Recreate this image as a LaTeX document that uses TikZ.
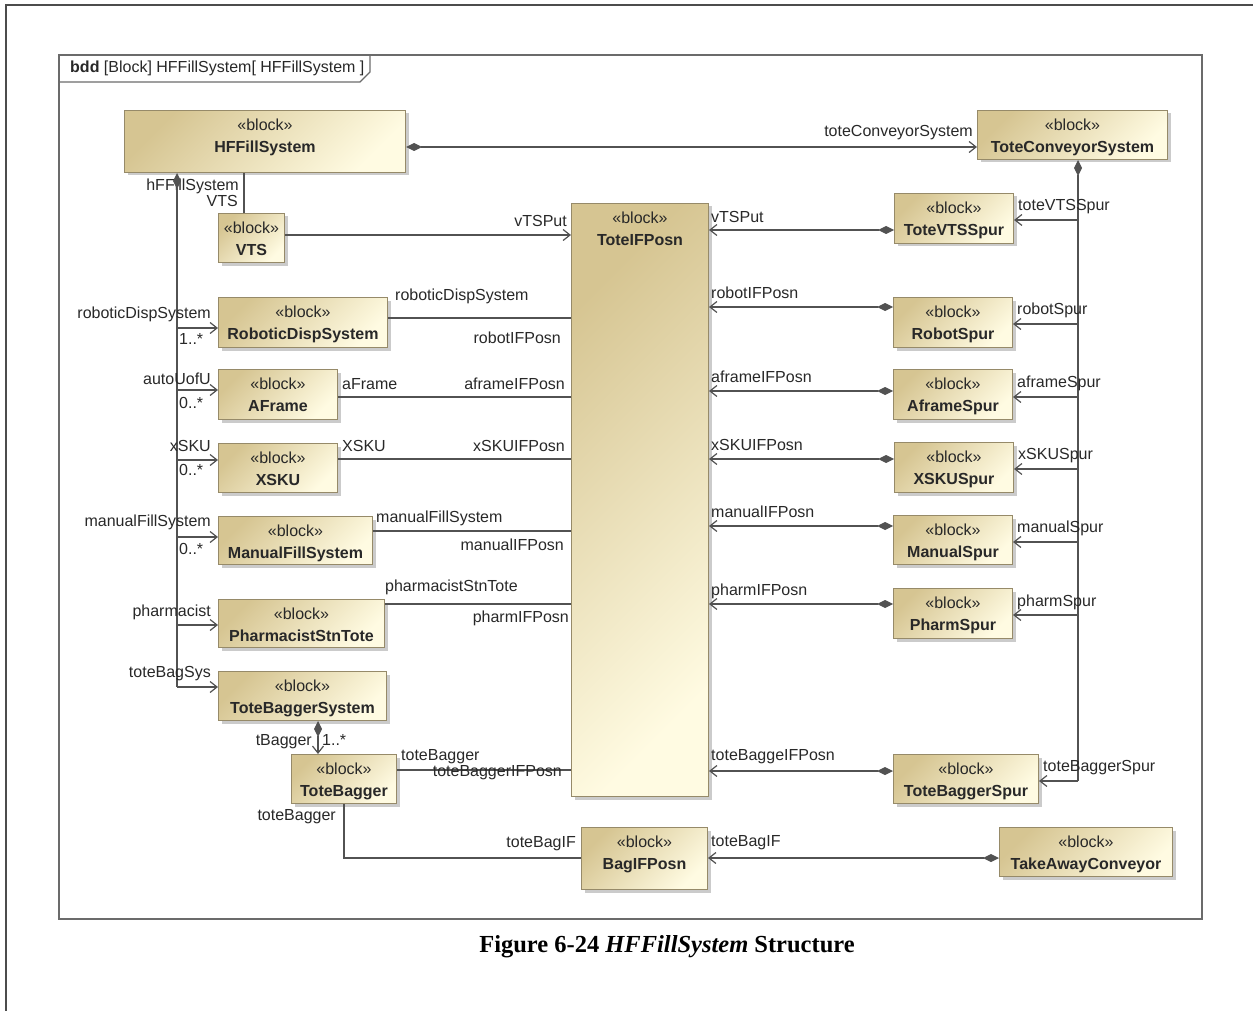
\documentclass[tikz,border=0pt]{standalone}
\usepackage{fontspec}
\setmainfont{Liberation Serif}
\setsansfont{Liberation Sans}
\usetikzlibrary{arrows.meta,shadows,positioning}

\definecolor{tanD}{RGB}{214,197,146}
\definecolor{tanL}{RGB}{255,251,226}
\definecolor{blkEdge}{RGB}{150,138,105}
\definecolor{lnGray}{RGB}{82,82,82}
\definecolor{txtGray}{RGB}{40,40,40}

\begin{document}
\begin{tikzpicture}[x=1pt,y=-1pt,
  blk/.style={draw=blkEdge, line width=1pt, top color=tanD, bottom color=tanL, shading angle=45,
    drop shadow={shadow xshift=3pt,shadow yshift=-3pt,fill=black!45,opacity=0.45},
    anchor=north west, inner sep=0pt},
  hd/.style={font=\sffamily\fontsize{16}{22}\selectfont, align=center, anchor=north,
    inner xsep=0pt, inner ysep=8.5pt, text=txtGray},
  lbl/.style={font=\sffamily\fontsize{16}{19}\selectfont, text=txtGray, inner sep=0pt},
  ln/.style={draw=lnGray, line width=1.2pt},
  arw/.style={ln, -{Straight Barb[length=7pt,width=11pt]}},
  dstart/.style={ln, {Diamond[length=16pt,width=8pt]}-},
  dia/.style={ln, {Diamond[length=16pt,width=8pt]}-{Straight Barb[length=7pt,width=11pt]}},
  frm/.style={draw=black!58, line width=1.3pt}]
  \useasboundingbox (0,0) rectangle (1253,1011);
  % page border
  \draw[draw=black!70, line width=2pt] (6,1011) -- (6,5) -- (1253,5);
  % diagram frame
  \draw[frm] (59,55) rectangle (1202,919);
  \draw[frm] (59,82) -- (360,82) -- (370,72) -- (370,55);
  \node[lbl, anchor=west] (hdr) at (70,68) {\textbf{bdd} [Block] HFFillSystem[ HFFillSystem ]};
  % blocks
  \foreach \nm/\x/\y/\w/\h/\txt in {
      hfs/124/110/281/62/HFFillSystem, vts/218/213/66/49/VTS,
      rds/218/297/169/50/RoboticDispSystem, afr/218/369/119/50/AFrame,
      xsk/218/443/119/49/XSKU, mfs/218/516/154/48/ManualFillSystem,
      pst/218/599/166/48/PharmacistStnTote, tbs/218/671/168/49/ToteBaggerSystem,
      tbg/291/754/105/49/ToteBagger, tip/571/203/137/593/ToteIFPosn,
      bip/581/827/126/62/BagIFPosn, tcs/977/110/190/49/ToteConveyorSystem,
      tvs/894/193/119/50/ToteVTSSpur, rsp/893/297/119/50/RobotSpur,
      asp/893/369/119/50/AframeSpur, xss/894/442/119/50/XSKUSpur,
      msp/893/515/119/49/ManualSpur, psp/893/588/119/50/PharmSpur,
      tbsp/893/754/145/49/ToteBaggerSpur, tac/999/827/173/49/TakeAwayConveyor}{
    \node[blk, minimum width=\w pt, minimum height=\h pt] (\nm) at (\x,\y) {};
    \node[hd] (\nm-t) at (\nm.north) {«block»\\\textbf{\txt}};
  }
  \coordinate (lbus) at (177,687);
  \coordinate (rbus) at (1078,781);
  % top row
  \draw[dia] (hfs.east |- 0,147) -- (tcs.west |- 0,147);
  \node[lbl, anchor=east] (tcs-r) at (973,133) {toteConveyorSystem};
  \draw[ln] (hfs.south -| 244,0) -- (vts.north -| 244,0);
  \node[lbl, anchor=east] (hfs-r) at (239,186) {hFFillSystem};
  \node[lbl, anchor=east] (vts-r) at (238,201) {VTS};
  \draw[arw] (vts.east |- 0,235) -- (tip.west |- 0,235);
  \node[lbl, anchor=east] (vts-a) at (567,221) {vTSPut};
  % left bus
  \draw[dstart] (hfs.south -| lbus) -- (lbus);
  \foreach \nm/\yb/\role/\yr in {rds/328/roboticDispSystem/314, afr/390/autoUofU/379,
      xsk/460/xSKU/446, mfs/537/manualFillSystem/522, pst/625/pharmacist/612,
      tbs/687/toteBagSys/674}{
    \draw[arw] (lbus |- 0,\yb) -- (\nm.west |- 0,\yb);
    \node[lbl, anchor=east] (\nm-r) at (211,\yr) {\role};
  }
  \foreach \yy/\mult [count=\i] in {339/1..*, 403/0..*, 470/0..*, 549/0..*}
    \node[lbl, anchor=west] (mul\i) at (179,\yy) {\mult};
  % left blocks to ToteIFPosn
  \foreach \nm/\yl in {rds/318, afr/397, xsk/459, mfs/531, pst/604, tbg/770}
    \draw[ln] (\nm.east |- 0,\yl) -- (tip.west |- 0,\yl);
  \foreach \xx/\yy/\txt [count=\i] in {395/296/roboticDispSystem, 342/384/aFrame,
      342/446/XSKU, 376/518/manualFillSystem, 385/587/pharmacistStnTote, 401/757/toteBagger}
    \node[lbl, anchor=west] (la\i) at (\xx,\yy) {\txt};
  \foreach \xx/\yy/\txt [count=\i] in {561/338/robotIFPosn, 565/384/aframeIFPosn,
      565/446/xSKUIFPosn, 564/545/manualIFPosn, 569/618/pharmIFPosn, 562/773/toteBaggerIFPosn}
    \node[lbl, anchor=east] (lb\i) at (\xx,\yy) {\txt};
  % ToteBagger
  \draw[dia] (tbs.south -| 318,0) -- (tbg.north -| 318,0);
  \node[lbl, anchor=east] (tbg-r) at (312,742) {tBagger};
  \node[lbl, anchor=west] (tbg-m) at (322,740) {1..*};
  \draw[ln] (tbg.south) -- (tbg.south |- 0,858) -- (bip.west |- 0,858);
  \node[lbl, anchor=east] (tbg-b) at (336,817) {toteBagger};
  \node[lbl, anchor=east] (bip-r) at (576,844) {toteBagIF};
  \draw[dia] (tac.west |- 0,858) -- (bip.east |- 0,858);
  \node[lbl, anchor=west] (bip-a) at (711,843) {toteBagIF};
  % right bus and spurs
  \draw[dstart] (tcs.south -| rbus) -- (rbus);
  \foreach \nm/\yl/\yb/\role/\yr/\spur/\ys in {
      tvs/230/220/vTSPut/217/toteVTSSpur/207,
      rsp/307/324/robotIFPosn/293/robotSpur/310,
      asp/391/397/aframeIFPosn/377/aframeSpur/383,
      xss/459/469/xSKUIFPosn/445/xSKUSpur/456,
      msp/526/542/manualIFPosn/512/manualSpur/528,
      psp/604/615/pharmIFPosn/591/pharmSpur/602,
      tbsp/771/781/toteBaggeIFPosn/757/toteBaggerSpur/768}{
    \draw[dia] (\nm.west |- 0,\yl) -- (tip.east |- 0,\yl);
    \draw[arw] (rbus |- 0,\yb) -- (\nm.east |- 0,\yb);
    \node[lbl, anchor=west] (\nm-a) at (711,\yr) {\role};
    \node[lbl, anchor=west, xshift=4pt] (\nm-r) at (\nm.east |- 0,\ys) {\spur};
  }
  % caption
  \node[font=\rmfamily\bfseries\fontsize{24.5}{28}\selectfont] (cap) at (667,947)
    {Figure 6-24 \textit{HFFillSystem} Structure};
\end{tikzpicture}
\end{document}
